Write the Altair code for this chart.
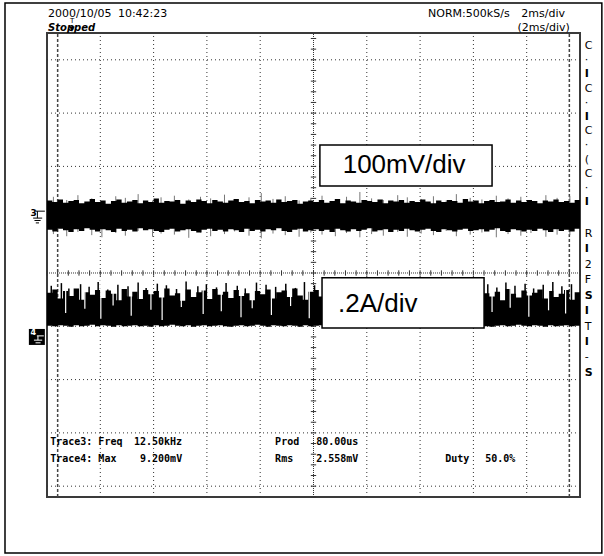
import altair as alt
import pandas as pd

# Screen coordinates are in divisions (x: 0..10 left to right, y: 0 at the
# centre line, positive upwards; the frame runs a little past +/-4 div).
SAMPLE_STEP = 0.1
TRACE3_POS = 0.07   # vertical position offset of trace 3 (div)
TRACE4_POS = -0.03  # vertical position offset of trace 4 (div)

# Trace 3 (100 mV/div): upper / lower envelope of the noise band
t3_hi = [1.29, 1.26, 1.31, 1.25, 1.28, 1.30, 1.24, 1.27, 1.32, 1.26,
         1.29, 1.23, 1.28, 1.31, 1.25, 1.27, 1.30, 1.24, 1.29, 1.26,
         1.33, 1.25, 1.28, 1.27, 1.30, 1.23, 1.29, 1.26, 1.31, 1.28,
         1.24, 1.30, 1.27, 1.25, 1.29, 1.32, 1.26, 1.28, 1.24, 1.30,
         1.27, 1.29, 1.25, 1.31, 1.26, 1.28, 1.30, 1.23, 1.27, 1.29,
         1.26, 1.30, 1.25, 1.28, 1.32, 1.24, 1.29, 1.27, 1.25, 1.30,
         1.28, 1.26, 1.31, 1.24, 1.29, 1.27, 1.30, 1.25, 1.28, 1.26,
         1.31, 1.27, 1.24, 1.29, 1.26, 1.30, 1.28, 1.25, 1.32, 1.27,
         1.29, 1.24, 1.28, 1.30, 1.26, 1.27, 1.31, 1.25, 1.29, 1.26,
         1.30, 1.28, 1.24, 1.29, 1.27, 1.31, 1.26, 1.28, 1.25, 1.30, 1.27]
t3_lo = [0.74, 0.71, 0.76, 0.73, 0.70, 0.75, 0.72, 0.77, 0.74, 0.71,
         0.75, 0.73, 0.70, 0.76, 0.72, 0.74, 0.71, 0.77, 0.73, 0.75,
         0.72, 0.70, 0.74, 0.76, 0.71, 0.73, 0.75, 0.72, 0.69, 0.74,
         0.76, 0.72, 0.74, 0.71, 0.75, 0.73, 0.70, 0.76, 0.72, 0.74,
         0.71, 0.75, 0.73, 0.77, 0.72, 0.70, 0.74, 0.76, 0.71, 0.73,
         0.75, 0.72, 0.74, 0.70, 0.76, 0.73, 0.71, 0.75, 0.72, 0.74,
         0.77, 0.71, 0.73, 0.75, 0.70, 0.74, 0.72, 0.76, 0.73, 0.71,
         0.74, 0.76, 0.72, 0.70, 0.75, 0.73, 0.71, 0.74, 0.76, 0.72,
         0.73, 0.75, 0.71, 0.74, 0.77, 0.72, 0.70, 0.75, 0.73, 0.71,
         0.74, 0.72, 0.76, 0.73, 0.70, 0.75, 0.72, 0.74, 0.71, 0.76, 0.73]

# Trace 4 (0.2 A/div): upper / lower envelope
t4_hi = [-0.34, -0.28, -0.45, -0.31, -0.40, -0.26, -0.47, -0.33, -0.38, -0.29,
         -0.44, -0.30, -0.36, -0.48, -0.27, -0.41, -0.32, -0.46, -0.29, -0.37,
         -0.31, -0.43, -0.26, -0.39, -0.35, -0.49, -0.28, -0.42, -0.33, -0.30,
         -0.46, -0.27, -0.38, -0.32, -0.44, -0.29, -0.40, -0.35, -0.48, -0.31,
         -0.37, -0.28, -0.45, -0.33, -0.30, -0.42, -0.26, -0.39, -0.47, -0.32,
         -0.29, -0.41, -0.35, -0.27, -0.44, -0.38, -0.31, -0.46, -0.34, -0.28,
         -0.40, -0.33, -0.48, -0.30, -0.36, -0.43, -0.27, -0.39, -0.32, -0.45,
         -0.30, -0.37, -0.42, -0.28, -0.47, -0.34, -0.31, -0.40, -0.26, -0.38,
         -0.44, -0.29, -0.35, -0.41, -0.32, -0.48, -0.27, -0.36, -0.43, -0.30,
         -0.39, -0.34, -0.28, -0.45, -0.31, -0.42, -0.36, -0.29, -0.47, -0.33, -0.38]
t4_lo = [-0.96, -0.97, -0.95, -0.96, -0.98, -0.95, -0.97, -0.96, -0.94, -0.97,
         -0.95, -0.96, -0.98, -0.95, -0.97, -0.96, -0.95, -0.97, -0.96, -0.98,
         -0.95, -0.97, -0.96, -0.94, -0.96, -0.97, -0.95, -0.98, -0.96, -0.95,
         -0.97, -0.96, -0.95, -0.97, -0.98, -0.96, -0.95, -0.97, -0.96, -0.94,
         -0.96, -0.98, -0.95, -0.96, -0.97, -0.95, -0.96, -0.98, -0.95, -0.97,
         -0.96, -0.95, -0.97, -0.96, -0.98, -0.95, -0.96, -0.97, -0.95, -0.96,
         -0.98, -0.96, -0.95, -0.97, -0.96, -0.94, -0.97, -0.96, -0.95, -0.98,
         -0.96, -0.97, -0.95, -0.96, -0.97, -0.95, -0.98, -0.96, -0.95, -0.97,
         -0.96, -0.95, -0.97, -0.98, -0.96, -0.95, -0.97, -0.96, -0.94, -0.96,
         -0.97, -0.95, -0.96, -0.98, -0.95, -0.97, -0.96, -0.95, -0.97, -0.96, -0.95]

# Isolated glitches on trace 3
glitch3_x = [0.12, 0.37, 0.58, 0.84, 1.03, 1.29, 1.47, 1.71, 1.98, 2.14,
             2.39, 2.66, 2.88, 3.07, 3.33, 3.52, 3.79, 4.02, 4.24, 4.47,
             4.73, 4.95, 5.16, 5.41, 5.62, 5.87, 6.09, 6.31, 6.58, 6.76,
             7.02, 7.25, 7.49, 7.68, 7.94, 8.16, 8.43, 8.65, 8.89, 9.08,
             9.36, 9.57, 9.81]
glitch3_top = [1.36, 1.30, 1.39, 1.33, 1.28, 1.37, 1.34, 1.41, 1.29, 1.35,
               1.38, 1.31, 1.36, 1.33, 1.40, 1.30, 1.35, 1.43, 1.32, 1.37,
               1.29, 1.34, 1.38, 1.31, 1.36, 1.45, 1.33, 1.30, 1.39, 1.35,
               1.32, 1.37, 1.29, 1.41, 1.34, 1.31, 1.38, 1.33, 1.36, 1.30,
               1.39, 1.34, 1.37]
glitch3_bot = [0.66, 0.62, 0.70, 0.64, 0.60, 0.68, 0.63, 0.72, 0.61, 0.67,
               0.65, 0.59, 0.69, 0.62, 0.66, 0.71, 0.63, 0.58, 0.67, 0.64,
               0.61, 0.69, 0.65, 0.62, 0.68, 0.60, 0.66, 0.63, 0.70, 0.61,
               0.67, 0.64, 0.72, 0.62, 0.65, 0.69, 0.60, 0.66, 0.63, 0.68,
               0.61, 0.65, 0.64]

# Switching peaks on trace 4
peak4_x = [0.08, 0.27, 0.41, 0.63, 0.79, 0.96, 1.14, 1.33, 1.52, 1.71,
           1.86, 2.07, 2.24, 2.43, 2.61, 2.83, 2.99, 3.18, 3.36, 3.57,
           3.72, 3.93, 4.11, 4.29, 4.48, 4.66, 4.83, 5.02, 8.27, 8.44,
           8.61, 8.78, 8.97, 9.13, 9.31, 9.49, 9.66, 9.84]
peak4_top = [-0.21, -0.16, -0.26, -0.18, -0.23, -0.14, -0.28, -0.19, -0.22, -0.15,
             -0.25, -0.17, -0.20, -0.27, -0.13, -0.22, -0.18, -0.24, -0.16, -0.21,
             -0.26, -0.15, -0.19, -0.23, -0.17, -0.25, -0.14, -0.20, -0.18, -0.24,
             -0.15, -0.21, -0.17, -0.26, -0.19, -0.14, -0.22, -0.18]

# Dropouts cutting into trace 4
drop4_x = [0.35, 0.71, 1.01, 1.24, 1.58, 1.95, 2.16, 2.52, 2.93, 3.27,
           3.64, 3.85, 4.21, 4.57, 4.92, 8.35, 8.69, 9.04, 9.41, 9.73]
drop4_depth = [-0.72, -0.64, -0.83, -0.58, -0.77, -0.66, -0.85, -0.61, -0.74, -0.69,
               -0.80, -0.63, -0.76, -0.59, -0.82, -0.70, -0.62, -0.79, -0.67, -0.73]

# Readout text
readout_row1 = ["Trace3: Freq", "12.50kHz", "Prod", "80.00us"]
readout_row2 = ["Trace4: Max", "9.200mV", "Rms", "2.558mV", "Duty", "50.0%"]
side_panel_top = ["C", "·", "I", "C", "·", "I", "C", "·", "(", "C", "·", "I"]
side_panel_bottom = ["R", "I", "2", "F", "S", "I", "T", "I", "-", "S"]

Y_LO, Y_HI = -4.203, 4.503
XS = alt.Scale(domain=[0, 10], nice=False, zero=False)
YS = alt.Scale(domain=[Y_LO, Y_HI], nice=False, zero=False)


def X(f):
    return alt.X(f, type="quantitative", scale=XS, axis=None)


def Y(f):
    return alt.Y(f, type="quantitative", scale=YS, axis=None)


def rules(df, **mark):
    return alt.Chart(df).mark_rule(**mark).encode(
        x=X("x1"), x2=alt.X2("x2"), y=Y("y1"), y2=alt.Y2("y2"))


def texts(df, **mark):
    base = dict(align="left", baseline="middle", color="black")
    base.update(mark)
    return alt.Chart(df).mark_text(**base).encode(x=X("x"), y=Y("y"), text="label:N")


def shifted(values, offset):
    return [round(v + offset, 3) for v in values]


# ---- graticule ----
vgrid = pd.DataFrame({"x1": [1, 2, 3, 4, 6, 7, 8, 9]})
vgrid["x2"] = vgrid["x1"]
vgrid["y1"], vgrid["y2"] = Y_LO, Y_HI
hgrid = pd.DataFrame({"y1": [-4, -3, -2, -1, 1, 2, 3, 4]})
hgrid["y2"] = hgrid["y1"]
hgrid["x1"], hgrid["x2"] = 0, 10
center = pd.DataFrame({"x1": [5, 0], "x2": [5, 10], "y1": [Y_LO, 0], "y2": [Y_HI, 0]})
vt = [round(0.2 * i, 2) for i in range(-21, 23)]
ht = [round(0.2 * i, 2) for i in range(51)]
ticks = pd.DataFrame({
    "x1": [4.95] * len(vt) + ht, "x2": [5.05] * len(vt) + ht,
    "y1": vt + [-0.05] * len(ht), "y2": vt + [0.05] * len(ht)})
cursors = pd.DataFrame({"x1": [0.2, 9.8], "x2": [0.2, 9.8],
                        "y1": [Y_LO, Y_LO], "y2": [Y_HI, Y_HI]})

grid = [
    rules(vgrid, color="#333", strokeWidth=1, strokeDash=[1, 3]),
    rules(hgrid, color="#333", strokeWidth=1, strokeDash=[1, 3]),
    rules(center, color="#333", strokeWidth=1, strokeDash=[1, 1]),
    rules(ticks, color="#333", strokeWidth=1),
    rules(cursors, color="#444", strokeWidth=1.5, strokeDash=[3, 2]),
]

# ---- traces ----
t = [round(i * SAMPLE_STEP, 2) for i in range(len(t3_hi))]
tr3 = pd.DataFrame({"t": t, "hi": shifted(t3_hi, TRACE3_POS), "lo": shifted(t3_lo, TRACE3_POS)})
tr4 = pd.DataFrame({"t": t, "hi": shifted(t4_hi, TRACE4_POS), "lo": shifted(t4_lo, TRACE4_POS)})


def band(df):
    return alt.Chart(df).mark_area(interpolate="step-after", color="black", opacity=1).encode(
        x=X("t"), y=Y("hi"), y2=alt.Y2("lo"))


g3 = pd.DataFrame({"x1": glitch3_x, "x2": glitch3_x,
                   "y1": shifted(glitch3_bot, TRACE3_POS), "y2": shifted(glitch3_top, TRACE3_POS)})
p4 = pd.DataFrame({"x1": peak4_x, "x2": peak4_x,
                   "y1": [-0.55 + TRACE4_POS] * len(peak4_x), "y2": shifted(peak4_top, TRACE4_POS)})
d4 = pd.DataFrame({"x1": drop4_x, "x2": drop4_x,
                   "y1": shifted(drop4_depth, TRACE4_POS), "y2": [-0.10] * len(drop4_x)})

traces = [
    rules(g3, color="#777", strokeWidth=1),
    band(tr3),
    band(tr4),
    rules(p4, color="black", strokeWidth=1.5),
    rules(d4, color="white", strokeWidth=1.2),
]

# ---- scale labels ----
boxes = pd.DataFrame({"x1": [5.12, 5.16], "x2": [8.35, 8.20],
                      "y1": [2.40, -0.09], "y2": [1.63, -1.03]})
label_boxes = alt.Chart(boxes).mark_rect(fill="white", stroke="black", strokeWidth=1.5).encode(
    x=X("x1"), x2=alt.X2("x2"), y=Y("y1"), y2=alt.Y2("y2"))
lab1 = texts(pd.DataFrame({"x": [6.70], "y": [2.02], "label": ["100mV/div"]}),
             align="center", font="Liberation Sans", fontSize=26)
lab2 = texts(pd.DataFrame({"x": [5.46], "y": [-0.58], "label": [".2A/div"]}),
             font="Liberation Sans", fontSize=26)

# ---- header ----
hdr = texts(pd.DataFrame({"x": [0.02, 1.33, 7.15], "y": [4.86, 4.86, 4.86],
                          "label": ["2000/10/05", "10:42:23", "NORM:500kS/s"]}),
            font="DejaVu Sans", fontSize=11)
hdr_r = texts(pd.DataFrame({"x": [9.72, 9.81], "y": [4.86, 4.60],
                            "label": ["2ms/div", "(2ms/div)"]}),
              align="right", font="DejaVu Sans", fontSize=11)
stopped = texts(pd.DataFrame({"x": [0.02], "y": [4.60], "label": ["Stopped"]}),
                font="DejaVu Sans", fontSize=10, fontStyle="italic", fontWeight="bold")
trig = texts(pd.DataFrame({"x": [0.47, 0.47], "y": [4.73, 4.58], "label": ["T", "▼"]}),
             align="center", font="DejaVu Sans", fontSize=7)

# ---- readouts ----
row1_x = [0.06, 1.63, 4.28, 5.05]
row2_x = [0.06, 1.745, 4.28, 5.05, 7.47, 8.22]
readouts = texts(pd.DataFrame({
    "x": row1_x + row2_x,
    "y": [-3.17] * len(row1_x) + [-3.49] * len(row2_x),
    "label": readout_row1 + readout_row2}),
    font="DejaVu Sans Mono", fontSize=10, fontWeight="bold")

# ---- side panel (cut off at the right edge) ----
side_y = [round(4.26 - 0.2664 * i, 3) for i in range(len(side_panel_top))] + \
         [round(0.73 - 0.289 * j, 3) for j in range(len(side_panel_bottom))]
side_labels = side_panel_top + side_panel_bottom
side = pd.DataFrame({"x": [10.09] * len(side_labels), "y": side_y, "label": side_labels})
bold_set = {"I", "S"}
side_reg = texts(side[~side["label"].isin(bold_set)], font="DejaVu Sans", fontSize=11)
side_bold = texts(side[side["label"].isin(bold_set)], font="DejaVu Sans", fontSize=11,
                  fontWeight="bold")

# ---- ground markers ----
gnd3 = pd.DataFrame({"x1": [-0.21, -0.18, -0.26, -0.235, -0.21],
                     "x2": [-0.04, -0.18, -0.09, -0.12, -0.15],
                     "y1": [1.16, 1.16, 1.03, 0.985, 0.94],
                     "y2": [1.16, 1.03, 1.03, 0.985, 0.94]})
mark3 = texts(pd.DataFrame({"x": [-0.31], "y": [1.13], "label": ["3"]}),
              font="DejaVu Sans", fontSize=9, fontWeight="bold")
box4 = alt.Chart(pd.DataFrame({"x1": [-0.34], "x2": [-0.04], "y1": [-1.05], "y2": [-1.35]})
                 ).mark_rect(color="black").encode(x=X("x1"), x2=alt.X2("x2"), y=Y("y1"), y2=alt.Y2("y2"))
gnd4 = pd.DataFrame({"x1": [-0.19, -0.17, -0.245, -0.215],
                     "x2": [-0.06, -0.17, -0.09, -0.12],
                     "y1": [-1.18, -1.18, -1.26, -1.31],
                     "y2": [-1.18, -1.26, -1.26, -1.31]})
mark4 = texts(pd.DataFrame({"x": [-0.31], "y": [-1.13], "label": ["4"]}),
              font="DejaVu Sans", fontSize=8, fontWeight="bold", color="white")

markers = [rules(gnd3, color="black", strokeWidth=1), mark3, box4,
           rules(gnd4, color="white", strokeWidth=1), mark4]

# ---- outer frame ----
frame = alt.Chart(pd.DataFrame({"x1": [-0.788], "x2": [10.41], "y1": [5.066], "y2": [-5.253]})
                  ).mark_rect(fillOpacity=0, stroke="black", strokeWidth=1.5).encode(
    x=X("x1"), x2=alt.X2("x2"), y=Y("y1"), y2=alt.Y2("y2"))

chart = alt.layer(
    *grid, *traces, label_boxes, lab1, lab2, hdr, hdr_r, stopped, trig,
    readouts, side_reg, side_bold, *markers, frame
).properties(
    width=533, height=464,
    padding={"left": 47, "top": 33, "right": 24, "bottom": 59},
    autosize=alt.AutoSizeParams(type="none"),
    background="white",
).configure_view(stroke="#3a3a3a", strokeWidth=2)

chart.save("out.html", embed_options={"renderer": "svg", "actions": False})
